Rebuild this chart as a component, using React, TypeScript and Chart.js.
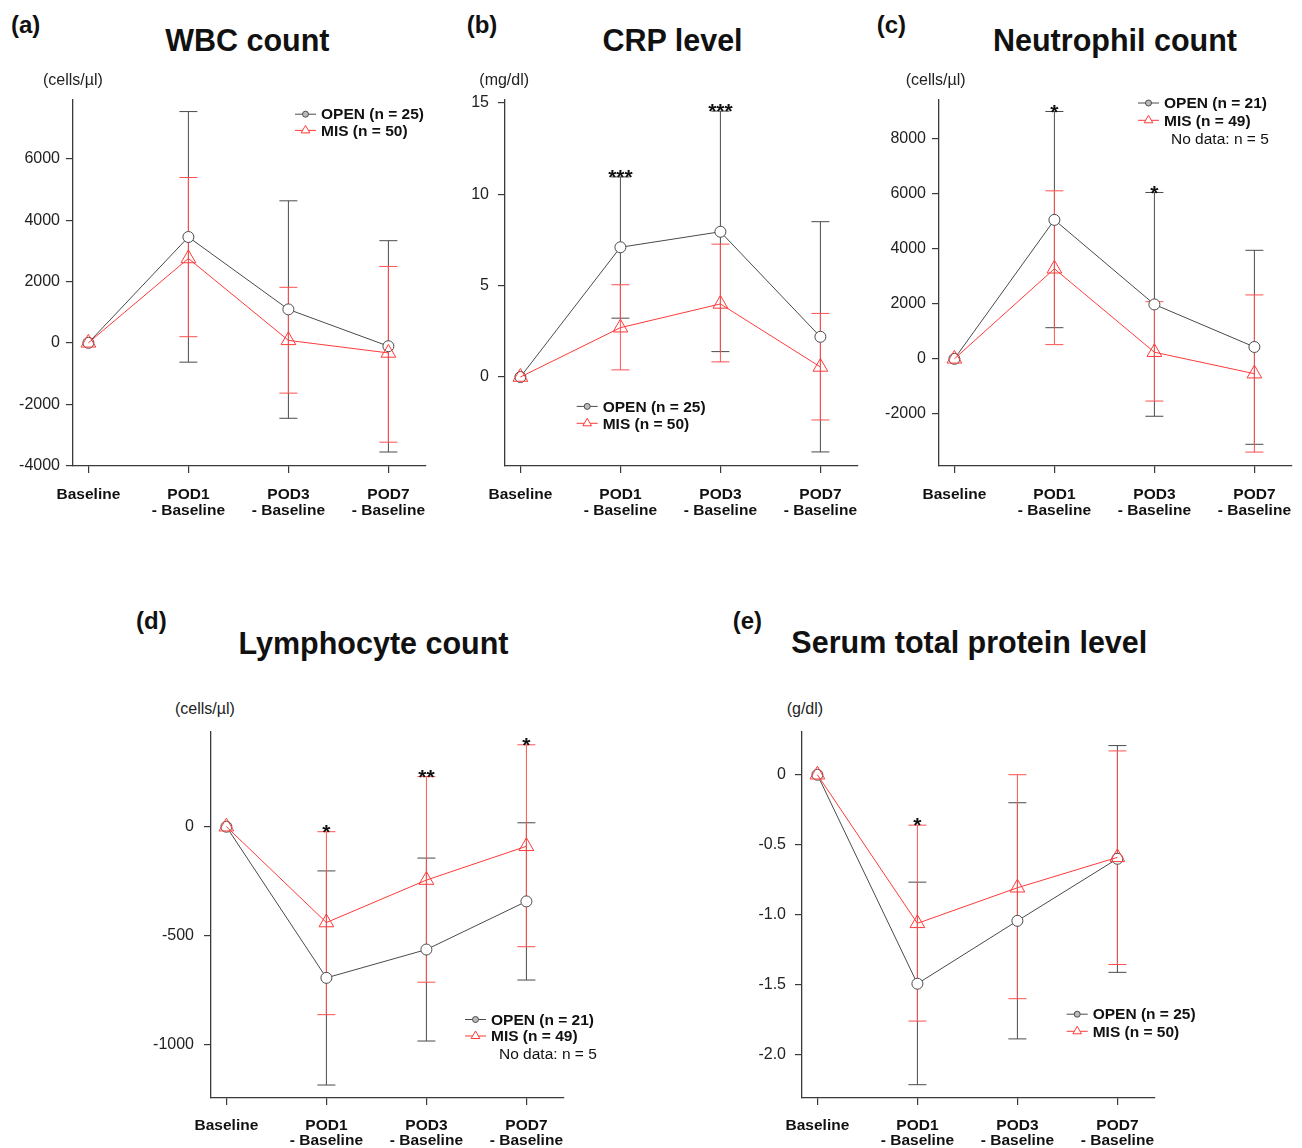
import React, { useEffect, useRef } from 'react';
import { Chart, registerables } from 'chart.js';

Chart.register(...registerables);

const FONT = '"Liberation Sans", Arial, Helvetica, sans-serif';
const GRAY = '#4a4a4a';
const RED = '#ff3a3a';
const RED_ERR = '#ff5050';
const AXIS = '#3a3a3a';
const TEXT = '#111111';

// ---------- shared categories ----------
const xPositions = [1, 2, 3, 4];
const xTickLabels = [['Baseline'], ['POD1', '- Baseline'], ['POD3', '- Baseline'], ['POD7', '- Baseline']];
const seriesNames = ['OPEN', 'MIS'];

// ---------- (a) WBC count ----------
const wbcOpenMean = [0, 3450, 1090, -110];
const wbcOpenUpper = [null, 7540, 4630, 3330];
const wbcOpenLower = [null, -630, -2460, -3560];
const wbcMisMean = [0, 2750, 80, -330];
const wbcMisUpper = [null, 5390, 1810, 2490];
const wbcMisLower = [null, 200, -1640, -3240];
const wbcN = [25, 50];
const wbcYTicks = [-4000, -2000, 0, 2000, 4000, 6000];
const wbcYLabels = ['-4000', '-2000', '0', '2000', '4000', '6000'];
const wbcStars = ['', '', '', ''];

// ---------- (b) CRP level ----------
const crpOpenMean = [0, 7.1, 7.95, 2.2];
const crpOpenUpper = [null, 10.95, 14.55, 8.5];
const crpOpenLower = [null, 3.22, 1.39, -4.1];
const crpMisMean = [0, 2.7, 4.0, 0.55];
const crpMisUpper = [null, 5.05, 7.27, 3.48];
const crpMisLower = [null, 0.39, 0.83, -2.35];
const crpN = [25, 50];
const crpYTicks = [0, 5, 10, 15];
const crpYLabels = ['0', '5', '10', '15'];
const crpStars = ['', '***', '***', ''];

// ---------- (c) Neutrophil count ----------
const neuOpenMean = [0, 5045, 1975, 430];
const neuOpenUpper = [null, 8980, 6040, 3940];
const neuOpenLower = [null, 1130, -2086, -3104];
const neuMisMean = [0, 3270, 240, -540];
const neuMisUpper = [null, 6100, 2074, 2320];
const neuMisLower = [null, 515, -1534, -3387];
const neuN = [21, 49];
const neuYTicks = [-2000, 0, 2000, 4000, 6000, 8000];
const neuYLabels = ['-2000', '0', '2000', '4000', '6000', '8000'];
const neuStars = ['', '*', '*', ''];

// ---------- (d) Lymphocyte count ----------
const lymOpenMean = [0, -694, -564, -343];
const lymOpenUpper = [null, -203, -144, 18];
const lymOpenLower = [null, -1186, -984, -704];
const lymMisMean = [0, -440, -245, -90];
const lymMisUpper = [null, -23, 230, 376];
const lymMisLower = [null, -863, -714, -551];
const lymN = [21, 49];
const lymYTicks = [-1000, -500, 0];
const lymYLabels = ['-1000', '-500', '0'];
const lymStars = ['', '*', '**', '*'];

// ---------- (e) Serum total protein level ----------
const tpOpenMean = [0, -1.492, -1.043, -0.6];
const tpOpenUpper = [null, -0.767, -0.2, 0.208];
const tpOpenLower = [null, -2.213, -1.886, -1.411];
const tpMisMean = [0, -1.061, -0.807, -0.59];
const tpMisUpper = [null, -0.36, 0, 0.17];
const tpMisLower = [null, -1.759, -1.599, -1.355];
const tpN = [25, 50];
const tpYTicks = [-2.0, -1.5, -1.0, -0.5, 0];
const tpYLabels = ['-2.0', '-1.5', '-1.0', '-0.5', '0'];
const tpStars = ['', '*', '', ''];

const noDataNote = 'No data: n = 5';

type Num = number | null;
type PanelDef = {
  letter: string;
  title: string;
  unit: string;
  openMean: number[]; openUpper: Num[]; openLower: Num[];
  misMean: number[]; misUpper: Num[]; misLower: Num[];
  n: number[];
  yTicks: number[]; yLabels: string[];
  stars: string[];
  note?: string;
  yMin: number; yMax: number;
  plot: { l: number; t: number; r: number; b: number };
  padR: number;
  xh: number; xPad: number; xLine: number; yPad: number;
  letterPos: [number, number];
  titlePos: [number, number];
  unitPos: [number, number];
  legend: { x: number; y: number; dy: number };
  notePos?: [number, number];
};

const YW = 72;
const PADT = 10;
const X_MIN = 0.846;
const X_MAX = 4.376;

const panels: PanelDef[] = [
  {
    letter: '(a)', title: 'WBC count', unit: '(cells/\u00b5l)',
    openMean: wbcOpenMean, openUpper: wbcOpenUpper, openLower: wbcOpenLower,
    misMean: wbcMisMean, misUpper: wbcMisUpper, misLower: wbcMisLower, n: wbcN,
    yTicks: wbcYTicks, yLabels: wbcYLabels, stars: wbcStars,
    yMin: -4016, yMax: 7917,
    plot: { l: 73, t: 100, r: 426, b: 466 }, padR: 10, xh: 70, xPad: 14, xLine: 16, yPad: 6,
    letterPos: [11, 25], titlePos: [247.3, 40.3], unitPos: [43, 80.4],
    legend: { x: 222, y: 14.2, dy: 16.2 },
  },
  {
    letter: '(b)', title: 'CRP level', unit: '(mg/dl)',
    openMean: crpOpenMean, openUpper: crpOpenUpper, openLower: crpOpenLower,
    misMean: crpMisMean, misUpper: crpMisUpper, misLower: crpMisLower, n: crpN,
    yTicks: crpYTicks, yLabels: crpYLabels, stars: crpStars,
    yMin: -4.87, yMax: 15.16,
    plot: { l: 505, t: 100, r: 858, b: 466 }, padR: 10, xh: 70, xPad: 14, xLine: 16, yPad: 9,
    letterPos: [466.7, 25], titlePos: [672.5, 40.3], unitPos: [479.3, 80.4],
    legend: { x: 71.7, y: 306.4, dy: 16.9 },
  },
  {
    letter: '(c)', title: 'Neutrophil count', unit: '(cells/\u00b5l)',
    openMean: neuOpenMean, openUpper: neuOpenUpper, openLower: neuOpenLower,
    misMean: neuMisMean, misUpper: neuMisUpper, misLower: neuMisLower, n: neuN,
    yTicks: neuYTicks, yLabels: neuYLabels, stars: neuStars, note: noDataNote,
    yMin: -3892, yMax: 9398,
    plot: { l: 939, t: 100, r: 1292, b: 466 }, padR: 10, xh: 70, xPad: 14, xLine: 16, yPad: 6,
    letterPos: [876.7, 25], titlePos: [1115, 40.3], unitPos: [905.7, 80.4],
    legend: { x: 199, y: 3, dy: 17.3 }, notePos: [232, 38.5],
  },
  {
    letter: '(d)', title: 'Lymphocyte count', unit: '(cells/\u00b5l)',
    openMean: lymOpenMean, openUpper: lymOpenUpper, openLower: lymOpenLower,
    misMean: lymMisMean, misUpper: lymMisUpper, misLower: lymMisLower, n: lymN,
    yTicks: lymYTicks, yLabels: lymYLabels, stars: lymStars, note: noDataNote,
    yMin: -1245.6, yMax: 434.8,
    plot: { l: 211, t: 732, r: 564, b: 1098 }, padR: 70, xh: 50, xPad: 13, xLine: 15.3, yPad: 10,
    letterPos: [136, 621.3], titlePos: [373.5, 642.7], unitPos: [175, 708.5],
    legend: { x: 254, y: 287.5, dy: 16.5 }, notePos: [288, 321.7],
  },
  {
    letter: '(e)', title: 'Serum total protein level', unit: '(g/dl)',
    openMean: tpOpenMean, openUpper: tpOpenUpper, openLower: tpOpenLower,
    misMean: tpMisMean, misUpper: tpMisUpper, misLower: tpMisLower, n: tpN,
    yTicks: tpYTicks, yLabels: tpYLabels, stars: tpStars,
    yMin: -2.308, yMax: 0.305,
    plot: { l: 802, t: 732, r: 1155, b: 1098 }, padR: 70, xh: 50, xPad: 13, xLine: 15.3, yPad: 9,
    letterPos: [732.7, 621.3], titlePos: [969.3, 642], unitPos: [786.7, 708.5],
    legend: { x: 264.7, y: 282.2, dy: 17.1 },
  },
];

function drawTriangle(ctx: CanvasRenderingContext2D, x: number, y: number, r: number) {
  ctx.beginPath();
  ctx.moveTo(x, y - r);
  ctx.lineTo(x + r * 0.866, y + r * 0.5);
  ctx.lineTo(x - r * 0.866, y + r * 0.5);
  ctx.closePath();
}

function makeOverlay(p: PanelDef) {
  return {
    id: 'overlay',
    beforeDatasetsDraw(chart: any) {
      const { ctx } = chart;
      const xs = chart.scales.x;
      const ys = chart.scales.y;
      const cap = 9;
      const groups = [
        { up: p.openUpper, lo: p.openLower, color: GRAY },
        { up: p.misUpper, lo: p.misLower, color: RED_ERR },
      ];
      ctx.save();
      ctx.lineWidth = 1;
      groups.forEach((g) => {
        ctx.strokeStyle = g.color;
        g.up.forEach((u, i) => {
          const lo = g.lo[i];
          if (u == null || lo == null) return;
          const px = xs.getPixelForValue(xPositions[i]);
          const pu = ys.getPixelForValue(u);
          const pl = ys.getPixelForValue(lo);
          ctx.beginPath();
          ctx.moveTo(px, pu); ctx.lineTo(px, pl);
          ctx.moveTo(px - cap, pu); ctx.lineTo(px + cap, pu);
          ctx.moveTo(px - cap, pl); ctx.lineTo(px + cap, pl);
          ctx.stroke();
        });
      });
      ctx.restore();
    },
    afterDatasetsDraw(chart: any) {
      const { ctx, chartArea: a } = chart;
      const xs = chart.scales.x;
      const ys = chart.scales.y;
      ctx.save();
      // significance stars
      const sfs = 21;
      ctx.font = `bold ${sfs}px ${FONT}`;
      ctx.fillStyle = TEXT;
      ctx.textAlign = 'center';
      ctx.textBaseline = 'alphabetic';
      p.stars.forEach((s, i) => {
        if (!s) return;
        const top = Math.max(p.openUpper[i] ?? -Infinity, p.misUpper[i] ?? -Infinity);
        const px = xs.getPixelForValue(xPositions[i]);
        const py = ys.getPixelForValue(top);
        ctx.fillText(s, px, py - 5 + 0.585 * sfs);
      });
      // legend
      const lx = a.left + p.legend.x;
      const entries = [
        { name: seriesNames[0], n: p.n[0], color: GRAY, tri: false },
        { name: seriesNames[1], n: p.n[1], color: RED, tri: true },
      ];
      entries.forEach((e, i) => {
        const y = a.top + p.legend.y + i * p.legend.dy;
        ctx.strokeStyle = e.color;
        ctx.lineWidth = 1;
        ctx.beginPath();
        ctx.moveTo(lx, y); ctx.lineTo(lx + 21, y);
        ctx.stroke();
        const mx = lx + 10.5;
        if (e.tri) {
          drawTriangle(ctx, mx, y, 5);
          ctx.fillStyle = '#fff';
          ctx.fill();
          ctx.stroke();
        } else {
          ctx.beginPath();
          ctx.arc(mx, y, 3, 0, Math.PI * 2);
          ctx.fillStyle = '#bbb';
          ctx.fill();
          ctx.stroke();
        }
        ctx.fillStyle = TEXT;
        ctx.font = `bold 15.5px ${FONT}`;
        ctx.textAlign = 'left';
        ctx.textBaseline = 'middle';
        ctx.fillText(`${e.name} (n = ${e.n})`, lx + 26, y + 1);
      });
      if (p.note && p.notePos) {
        ctx.font = `15.5px ${FONT}`;
        ctx.fillStyle = TEXT;
        ctx.textAlign = 'left';
        ctx.textBaseline = 'middle';
        ctx.fillText(p.note, a.left + p.notePos[0], a.top + p.notePos[1] + 1);
      }
      ctx.restore();
    },
  };
}

function PanelChart({ p }: { p: PanelDef }) {
  const ref = useRef<HTMLCanvasElement>(null);
  const cw = p.plot.r - p.plot.l + YW + p.padR;
  const ch = p.plot.b - p.plot.t + PADT + p.xh;

  useEffect(() => {
    const canvas = ref.current;
    if (!canvas) return;
    const zeroPad = (s: any) => {
      s.paddingTop = 0; s.paddingBottom = 0; s.paddingLeft = 0; s.paddingRight = 0;
    };
    const chart = new Chart(canvas, {
      type: 'scatter',
      data: {
        datasets: [
          {
            label: seriesNames[0],
            data: xPositions.map((x, i) => ({ x, y: p.openMean[i] })),
            showLine: true,
            borderColor: GRAY,
            borderWidth: 1,
            pointStyle: 'circle',
            pointRadius: 5.5,
            pointBorderColor: GRAY,
            pointBackgroundColor: '#ffffff',
            pointBorderWidth: 1,
            order: 2,
          },
          {
            label: seriesNames[1],
            data: xPositions.map((x, i) => ({ x, y: p.misMean[i] })),
            showLine: true,
            borderColor: RED,
            borderWidth: 1,
            pointStyle: 'triangle',
            pointRadius: 8.5,
            pointBorderColor: RED,
            pointBackgroundColor: 'rgba(255,255,255,0)',
            pointBorderWidth: 1,
            order: 1,
          },
        ],
      },
      options: {
        responsive: false,
        maintainAspectRatio: false,
        animation: false,
        devicePixelRatio: 1,
        events: [],
        layout: { padding: { top: PADT, right: p.padR, left: 0, bottom: 0 } },
        plugins: { legend: { display: false }, tooltip: { enabled: false } },
        scales: {
          x: {
            type: 'linear',
            min: X_MIN,
            max: X_MAX,
            afterBuildTicks: (s: any) => { s.ticks = xPositions.map((v) => ({ value: v })); },
            afterFit: (s: any) => { s.height = p.xh; zeroPad(s); },
            ticks: {
              autoSkip: false,
              maxRotation: 0,
              padding: p.xPad,
              color: TEXT,
              font: { family: FONT, size: 15.5, weight: 'bold', lineHeight: `${p.xLine}px` },
              callback: (v: any) => xTickLabels[xPositions.indexOf(Number(v))] ?? '',
            },
            grid: { display: true, drawOnChartArea: false, drawTicks: true, tickLength: 7, color: AXIS, lineWidth: 1.2 },
            border: { display: true, color: AXIS, width: 1.3 },
          },
          y: {
            type: 'linear',
            min: p.yMin,
            max: p.yMax,
            afterBuildTicks: (s: any) => { s.ticks = p.yTicks.map((v) => ({ value: v })); },
            afterFit: (s: any) => { s.width = YW; zeroPad(s); },
            ticks: {
              autoSkip: false,
              padding: p.yPad,
              color: '#222',
              font: { family: FONT, size: 16 },
              callback: (v: any) => p.yLabels[p.yTicks.indexOf(Number(v))] ?? '',
            },
            grid: { display: true, drawOnChartArea: false, drawTicks: true, tickLength: 7, color: AXIS, lineWidth: 1.2 },
            border: { display: true, color: AXIS, width: 1.3 },
          },
        },
      } as any,
      plugins: [makeOverlay(p)],
    });
    return () => chart.destroy();
  }, []);

  return (
    <canvas
      ref={ref}
      width={cw}
      height={ch}
      style={{ position: 'absolute', left: p.plot.l - YW, top: p.plot.t - PADT, width: cw, height: ch }}
    />
  );
}

function PanelText({ p }: { p: PanelDef }) {
  const base: React.CSSProperties = { position: 'absolute', fontFamily: FONT, color: TEXT, whiteSpace: 'nowrap' };
  return (
    <>
      <div style={{ ...base, left: p.letterPos[0], top: p.letterPos[1] - 15, height: 30, lineHeight: '30px', fontSize: 24, fontWeight: 'bold' }}>
        {p.letter}
      </div>
      <div style={{ ...base, left: p.titlePos[0] - 300, width: 600, textAlign: 'center', top: p.titlePos[1] - 20, height: 40, lineHeight: '40px', fontSize: 30.5, fontWeight: 'bold' }}>
        {p.title}
      </div>
      <div style={{ ...base, left: p.unitPos[0], top: p.unitPos[1] - 11, height: 22, lineHeight: '22px', fontSize: 16, color: '#222' }}>
        {p.unit}
      </div>
    </>
  );
}

export default function App() {
  return (
    <div style={{ position: 'absolute', left: 0, top: 0, width: 1302, height: 1148, overflow: 'hidden', background: '#fff' }}>
      {panels.map((p) => (
        <React.Fragment key={p.letter}>
          <PanelChart p={p} />
          <PanelText p={p} />
        </React.Fragment>
      ))}
    </div>
  );
}
